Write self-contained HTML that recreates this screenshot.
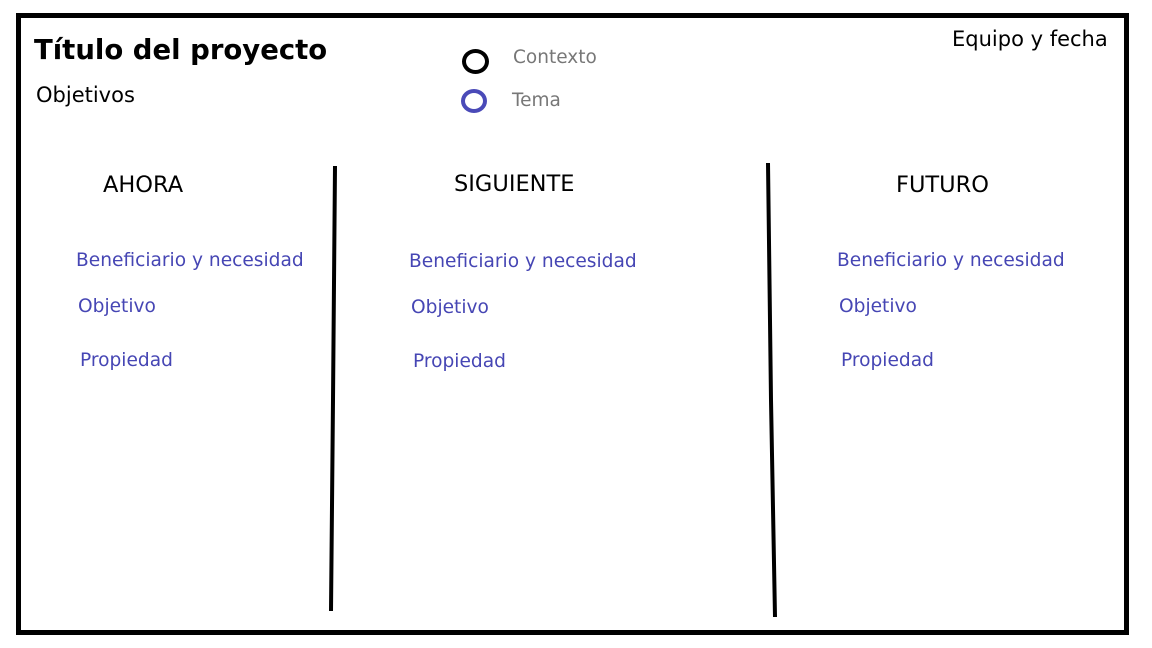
<!DOCTYPE html>
<html><head><meta charset="utf-8"><style>
body{margin:0;width:1152px;height:648px;background:#fff;position:relative;overflow:hidden;font-family:"DejaVu Sans","Liberation Sans",sans-serif}
.b{position:absolute;left:16px;top:13px;width:1103px;height:612px;border:5px solid #000}
.t{position:absolute;white-space:nowrap;line-height:1}
.blue{color:#4646b4;font-size:18.6px}
.h{font-size:22px;color:#000}
</style></head><body>
<div class="b"></div>
<div class="t" style="left:34px;top:37px;font-size:27.5px;font-weight:bold;">Título del proyecto</div>
<div class="t" style="left:36px;top:85px;font-size:21px;">Objetivos</div>
<div class="t" style="left:952px;top:29px;font-size:21px;">Equipo y fecha</div>
<div style="position:absolute;left:462px;top:49px;width:19px;height:17px;border:4px solid #000;border-radius:50%"></div>
<div style="position:absolute;left:461px;top:89px;width:18px;height:16px;border:4px solid #4a4ab8;border-radius:50%"></div>
<div class="t" style="left:513px;top:49px;font-size:18.5px;color:#777">Contexto</div>
<div class="t" style="left:512px;top:92px;font-size:18.5px;color:#777">Tema</div>
<svg style="position:absolute;left:0;top:0" width="1152" height="648"><path d="M335 166 L333 400 L331 611" stroke="#000" stroke-width="4" fill="none"/><path d="M768 163 L771 400 L775 617" stroke="#000" stroke-width="4" fill="none"/></svg>
<div class="t h" style="left:103px;top:174px;font-size:22.5px">AHORA</div>
<div class="t h" style="left:454px;top:173px;font-size:22.5px">SIGUIENTE</div>
<div class="t h" style="left:896px;top:174px;font-size:22.5px">FUTURO</div>
<div class="t blue" style="left:76px;top:252px">Beneficiario y necesidad</div>
<div class="t blue" style="left:78px;top:298px">Objetivo</div>
<div class="t blue" style="left:80px;top:352px">Propiedad</div>
<div class="t blue" style="left:409px;top:253px">Beneficiario y necesidad</div>
<div class="t blue" style="left:411px;top:299px">Objetivo</div>
<div class="t blue" style="left:413px;top:353px">Propiedad</div>
<div class="t blue" style="left:837px;top:252px">Beneficiario y necesidad</div>
<div class="t blue" style="left:839px;top:298px">Objetivo</div>
<div class="t blue" style="left:841px;top:352px">Propiedad</div>
</body></html>
